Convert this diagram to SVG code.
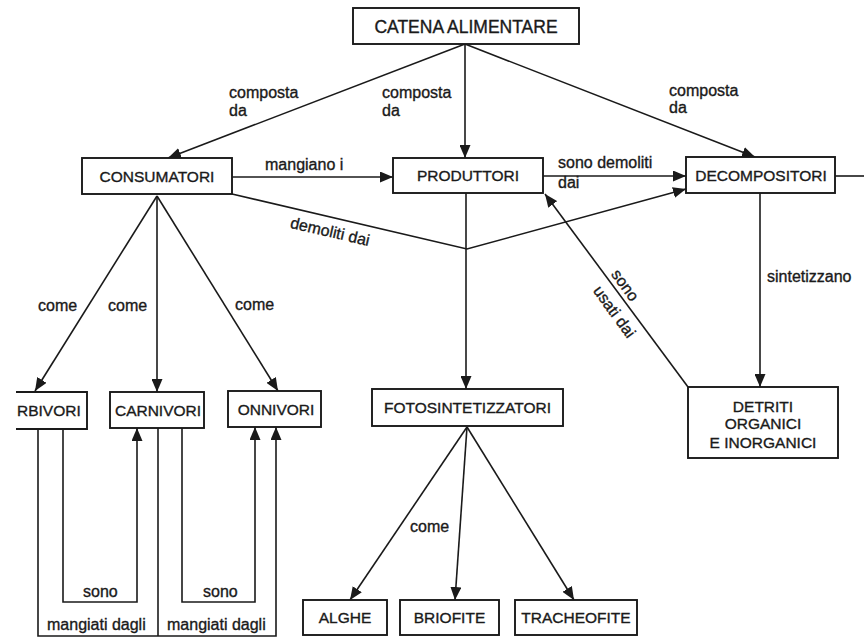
<svg xmlns="http://www.w3.org/2000/svg" width="864" height="639" viewBox="0 0 864 639">
<defs>
<marker id="ah" markerUnits="userSpaceOnUse" markerWidth="13" markerHeight="11" refX="13" refY="5.5" orient="auto">
<path d="M0,0 L13,5.5 L0,11 z" fill="#1a1a1a"/>
</marker>
<style>
.box{fill:#fff;stroke:#1a1a1a;stroke-width:1.9}
.nt{font-family:"Liberation Sans",Arial,sans-serif;font-size:15.5px;fill:#1a1a1a;stroke:#1a1a1a;stroke-width:0.35;text-anchor:middle}
.lb{font-family:"Liberation Sans",Arial,sans-serif;font-size:16px;fill:#1a1a1a;stroke:#1a1a1a;stroke-width:0.35}
.ln{fill:none;stroke:#1a1a1a;stroke-width:1.6}
.ar{fill:none;stroke:#1a1a1a;stroke-width:1.6;marker-end:url(#ah)}
</style>
</defs>
<rect width="864" height="639" fill="#fff"/>

<g id="connectors">
<path class="ar" d="M465,44 L168,158"/>
<path class="ar" d="M465,44 L465,158"/>
<path class="ar" d="M465,44 L755,157"/>
<path class="ar" d="M232,177 L393,177"/>
<path class="ar" d="M543,176 L686,176"/>
<path class="ln" d="M835,176 L864,176"/>
<path class="ar" d="M232,194 L467,249 L686,189"/>
<path class="ar" d="M466,193 L466,389"/>
<path class="ar" d="M688,387 L545,194"/>
<path class="ar" d="M760,193 L760,387"/>
<path class="ar" d="M157,196 L35,391"/>
<path class="ar" d="M157,196 L157,392"/>
<path class="ar" d="M157,196 L278,391"/>
<path class="ar" d="M63,429 L63,602 L137,602 L137,428"/>
<path class="ar" d="M38,429 L38,636 L276,636 L276,427"/>
<path class="ln" d="M158,428 L158,636"/>
<path class="ar" d="M182,428 L182,602 L255,602 L255,427"/>
<path class="ar" d="M467,427 L350,600"/>
<path class="ar" d="M467,427 L455,600"/>
<path class="ar" d="M467,427 L574,600"/>
<text class="lb" x="229" y="98">composta</text>
<text class="lb" x="229" y="116">da</text>
<text class="lb" x="382" y="98">composta</text>
<text class="lb" x="382" y="116">da</text>
<text class="lb" x="669" y="96">composta</text>
<text class="lb" x="669" y="113">da</text>
<text class="lb" x="265" y="170">mangiano i</text>
<text class="lb" x="558" y="168">sono demoliti</text>
<text class="lb" x="558" y="188">dai</text>
<text class="lb" transform="translate(330,232) rotate(13)" x="0" y="5" text-anchor="middle">demoliti dai</text>
<text class="lb" transform="translate(624,286) rotate(54)" x="0" y="4" text-anchor="middle">sono</text>
<text class="lb" transform="translate(614,312) rotate(54)" x="0" y="5" text-anchor="middle">usati dai</text>
<text class="lb" x="767" y="282">sintetizzano</text>
<text class="lb" x="38" y="311">come</text>
<text class="lb" x="108" y="311">come</text>
<text class="lb" x="235" y="310">come</text>
<text class="lb" x="410" y="532">come</text>
<text class="lb" x="83" y="597">sono</text>
<text class="lb" x="203" y="597">sono</text>
<text class="lb" x="47" y="630">mangiati dagli</text>
<text class="lb" x="167" y="630">mangiati dagli</text>
</g>

<g id="catena">
<rect class="box" x="353" y="8" width="226" height="36"/>
<text class="nt" x="466" y="32.5" style="font-size:17.5px">CATENA ALIMENTARE</text>
</g>
<g id="consumatori">
<rect class="box" x="82" y="158" width="150" height="36"/>
<text class="nt" x="157" y="181.5">CONSUMATORI</text>
</g>
<g id="produttori">
<rect class="box" x="393" y="158" width="150" height="35"/>
<text class="nt" x="468" y="181">PRODUTTORI</text>
</g>
<g id="decompositori">
<rect class="box" x="686" y="157" width="149" height="36"/>
<text class="nt" x="761" y="180.5">DECOMPOSITORI</text>
</g>
<g id="erbivori">
<path class="ln" style="stroke-width:1.9" d="M16,392 L87,392 L87,429 L16,429"/>
<text class="nt" x="17" y="416" style="text-anchor:start">RBIVORI</text>
</g>
<g id="carnivori">
<rect class="box" x="110" y="392" width="94" height="36"/>
<text class="nt" x="158" y="416">CARNIVORI</text>
</g>
<g id="onnivori">
<rect class="box" x="228" y="391" width="93" height="36"/>
<text class="nt" x="276" y="415">ONNIVORI</text>
</g>
<g id="fotosintetizzatori">
<rect class="box" x="372" y="389" width="191" height="37"/>
<text class="nt" x="467.5" y="413">FOTOSINTETIZZATORI</text>
</g>
<g id="detriti">
<rect class="box" x="688" y="387" width="150" height="71"/>
<text class="nt" x="763" y="412">DETRITI</text>
<text class="nt" x="763" y="429">ORGANICI</text>
<text class="nt" x="763" y="448">E INORGANICI</text>
</g>
<g id="alghe">
<rect class="box" x="303" y="600" width="84" height="35"/>
<text class="nt" x="345" y="623">ALGHE</text>
</g>
<g id="briofite">
<rect class="box" x="400" y="600" width="99" height="35"/>
<text class="nt" x="449.5" y="623">BRIOFITE</text>
</g>
<g id="tracheofite">
<rect class="box" x="515" y="600" width="122" height="35"/>
<text class="nt" x="576" y="623">TRACHEOFITE</text>
</g>
</svg>
